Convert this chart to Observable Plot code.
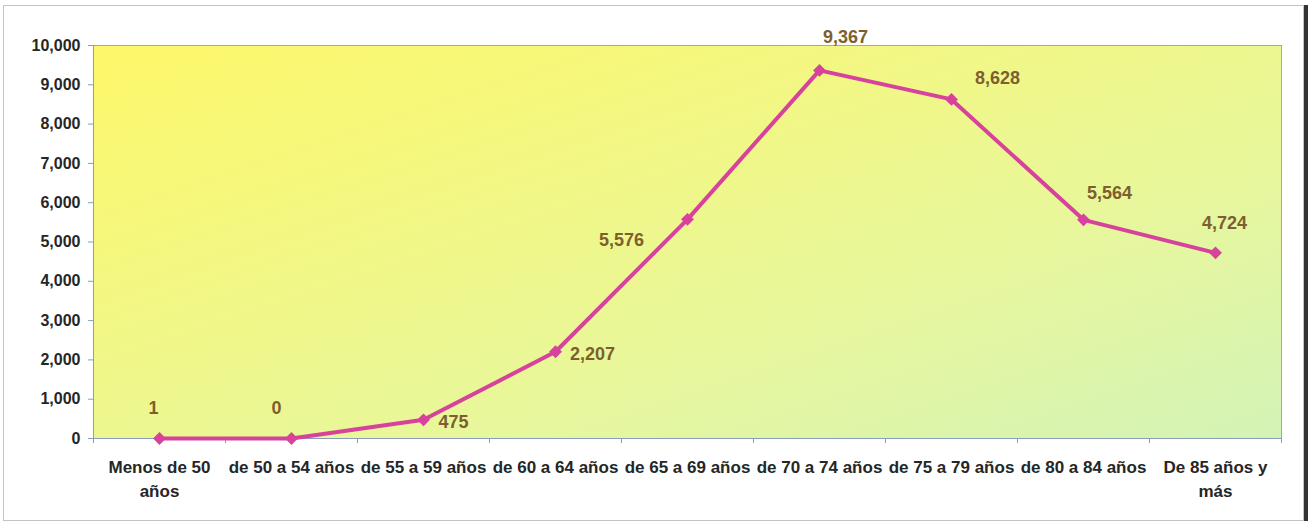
<!DOCTYPE html>
<html>
<head>
<meta charset="utf-8">
<script src="https://cdn.jsdelivr.net/npm/d3@7"></script>
<script src="https://cdn.jsdelivr.net/npm/@observablehq/plot@0.6"></script>
<style>
  html, body { margin: 0; padding: 0; background: #fff; }
  #wrap { position: relative; width: 1312px; height: 525px; }
  #border { position: absolute; left: 3px; top: 5px; width: 1301px; height: 516px;
            border: 1px solid #c4c4c4; box-shadow: 4px 0 0 #333; box-sizing: border-box; }
  #chart { position: absolute; left: 0; top: 0; }
</style>
</head>
<body>
<div id="wrap"><div id="border"></div><div id="chart"></div></div>
<script>
// ---- data ----
const categories = ["Menos de 50 años", "de 50 a 54 años", "de 55 a 59 años", "de 60 a 64 años",
  "de 65 a 69 años", "de 70 a 74 años", "de 75 a 79 años", "de 80 a 84 años", "De 85 años y más"];
const tickLabels = ["Menos de 50\naños", "de 50 a 54 años", "de 55 a 59 años", "de 60 a 64 años",
  "de 65 a 69 años", "de 70 a 74 años", "de 75 a 79 años", "de 80 a 84 años", "De 85 años y\nmás"];
const values = [1, 0, 475, 2207, 5576, 9367, 8628, 5564, 4724];
const yTicks = [0, 1000, 2000, 3000, 4000, 5000, 6000, 7000, 8000, 9000, 10000];

// ---- label placement (styling, not data) ----
const labelOffsets = [[-6, -30], [-15, -30], [30, 2], [37, 2], [-66, 21], [26, -33], [46, -21], [26, -27], [9, -30]];

const table = categories.map((c, i) => ({cat: c, value: values[i]}));
const labelOf = new Map(categories.map((c, i) => [c, tickLabels[i]]));
const fmt = d3.format(",");

const FONT = "'Liberation Sans', Arial, sans-serif";

// boundary tick marks + left axis line, derived from the x scale
function boundaryTicks(index, scales, values, dims) {
  const x = scales.x;
  const step = x(categories[1]) - x(categories[0]);
  const y0 = dims.height - dims.marginBottom;
  const g = d3.create("svg:g").attr("stroke", "#8a9cc0").attr("stroke-width", 1);
  const left = x(categories[0]) - step / 2;
  for (let i = 0; i <= categories.length; i++) {
    const bx = Math.round(left + i * step) + 0.5;
    g.append("line").attr("x1", bx).attr("x2", bx).attr("y1", y0).attr("y2", y0 + 5);
  }
  g.append("line").attr("x1", Math.round(left) + 0.5).attr("x2", Math.round(left) + 0.5)
    .attr("y1", dims.marginTop).attr("y2", y0);
  return g.node();
}

const chart = Plot.plot({
  width: 1312,
  height: 525,
  marginLeft: 93,
  marginRight: 31,
  marginTop: 45,
  marginBottom: 87,
  style: {fontFamily: FONT, background: "transparent"},
  x: {type: "point", domain: categories, padding: 0.5},
  y: {domain: [0, 10000]},
  marks: [
    Plot.frame({fill: "url(#bgGrad)", stroke: "#a8a8a8"}),
    Plot.ruleY([0], {stroke: "#8a9cc0", strokeWidth: 1}),
    boundaryTicks,
    Plot.axisY({ticks: yTicks, tickFormat: fmt, tickSize: 5, tickPadding: 8, stroke: "#8a9cc0",
      fill: "#262626", fontSize: 16, fontWeight: "bold", label: null}),
    Plot.axisX({tickSize: 0, tickPadding: 18, tickFormat: d => labelOf.get(d), fill: "#262626",
      fontSize: 17, fontWeight: "bold", lineHeight: 1.4, label: null}),
    Plot.line(table, {x: "cat", y: "value", stroke: "#d6429c", strokeWidth: 4}),
    Plot.dot(table, {x: "cat", y: "value", symbol: "diamond2", r: 5.8, fill: "#d6429c", stroke: "none"}),
    ...table.map((d, i) => Plot.text([d], {x: "cat", y: "value", text: e => fmt(e.value),
      dx: labelOffsets[i][0], dy: labelOffsets[i][1], fill: "#7d5f2e", fontSize: 18, fontWeight: "bold"}))
  ]
});

// gradient definition for the plot background
const svg = d3.select(chart);
const defs = svg.insert("defs", ":first-child");
const grad = defs.append("linearGradient").attr("id", "bgGrad")
  .attr("x1", "0").attr("y1", "0").attr("x2", "1").attr("y2", "1");
grad.append("stop").attr("offset", "0").attr("stop-color", "#fdf86a");
grad.append("stop").attr("offset", "0.3").attr("stop-color", "#f4f780");
grad.append("stop").attr("offset", "0.65").attr("stop-color", "#e8f79c");
grad.append("stop").attr("offset", "1").attr("stop-color", "#d3f3b6");

document.getElementById("chart").appendChild(chart);
</script>
</body>
</html>
